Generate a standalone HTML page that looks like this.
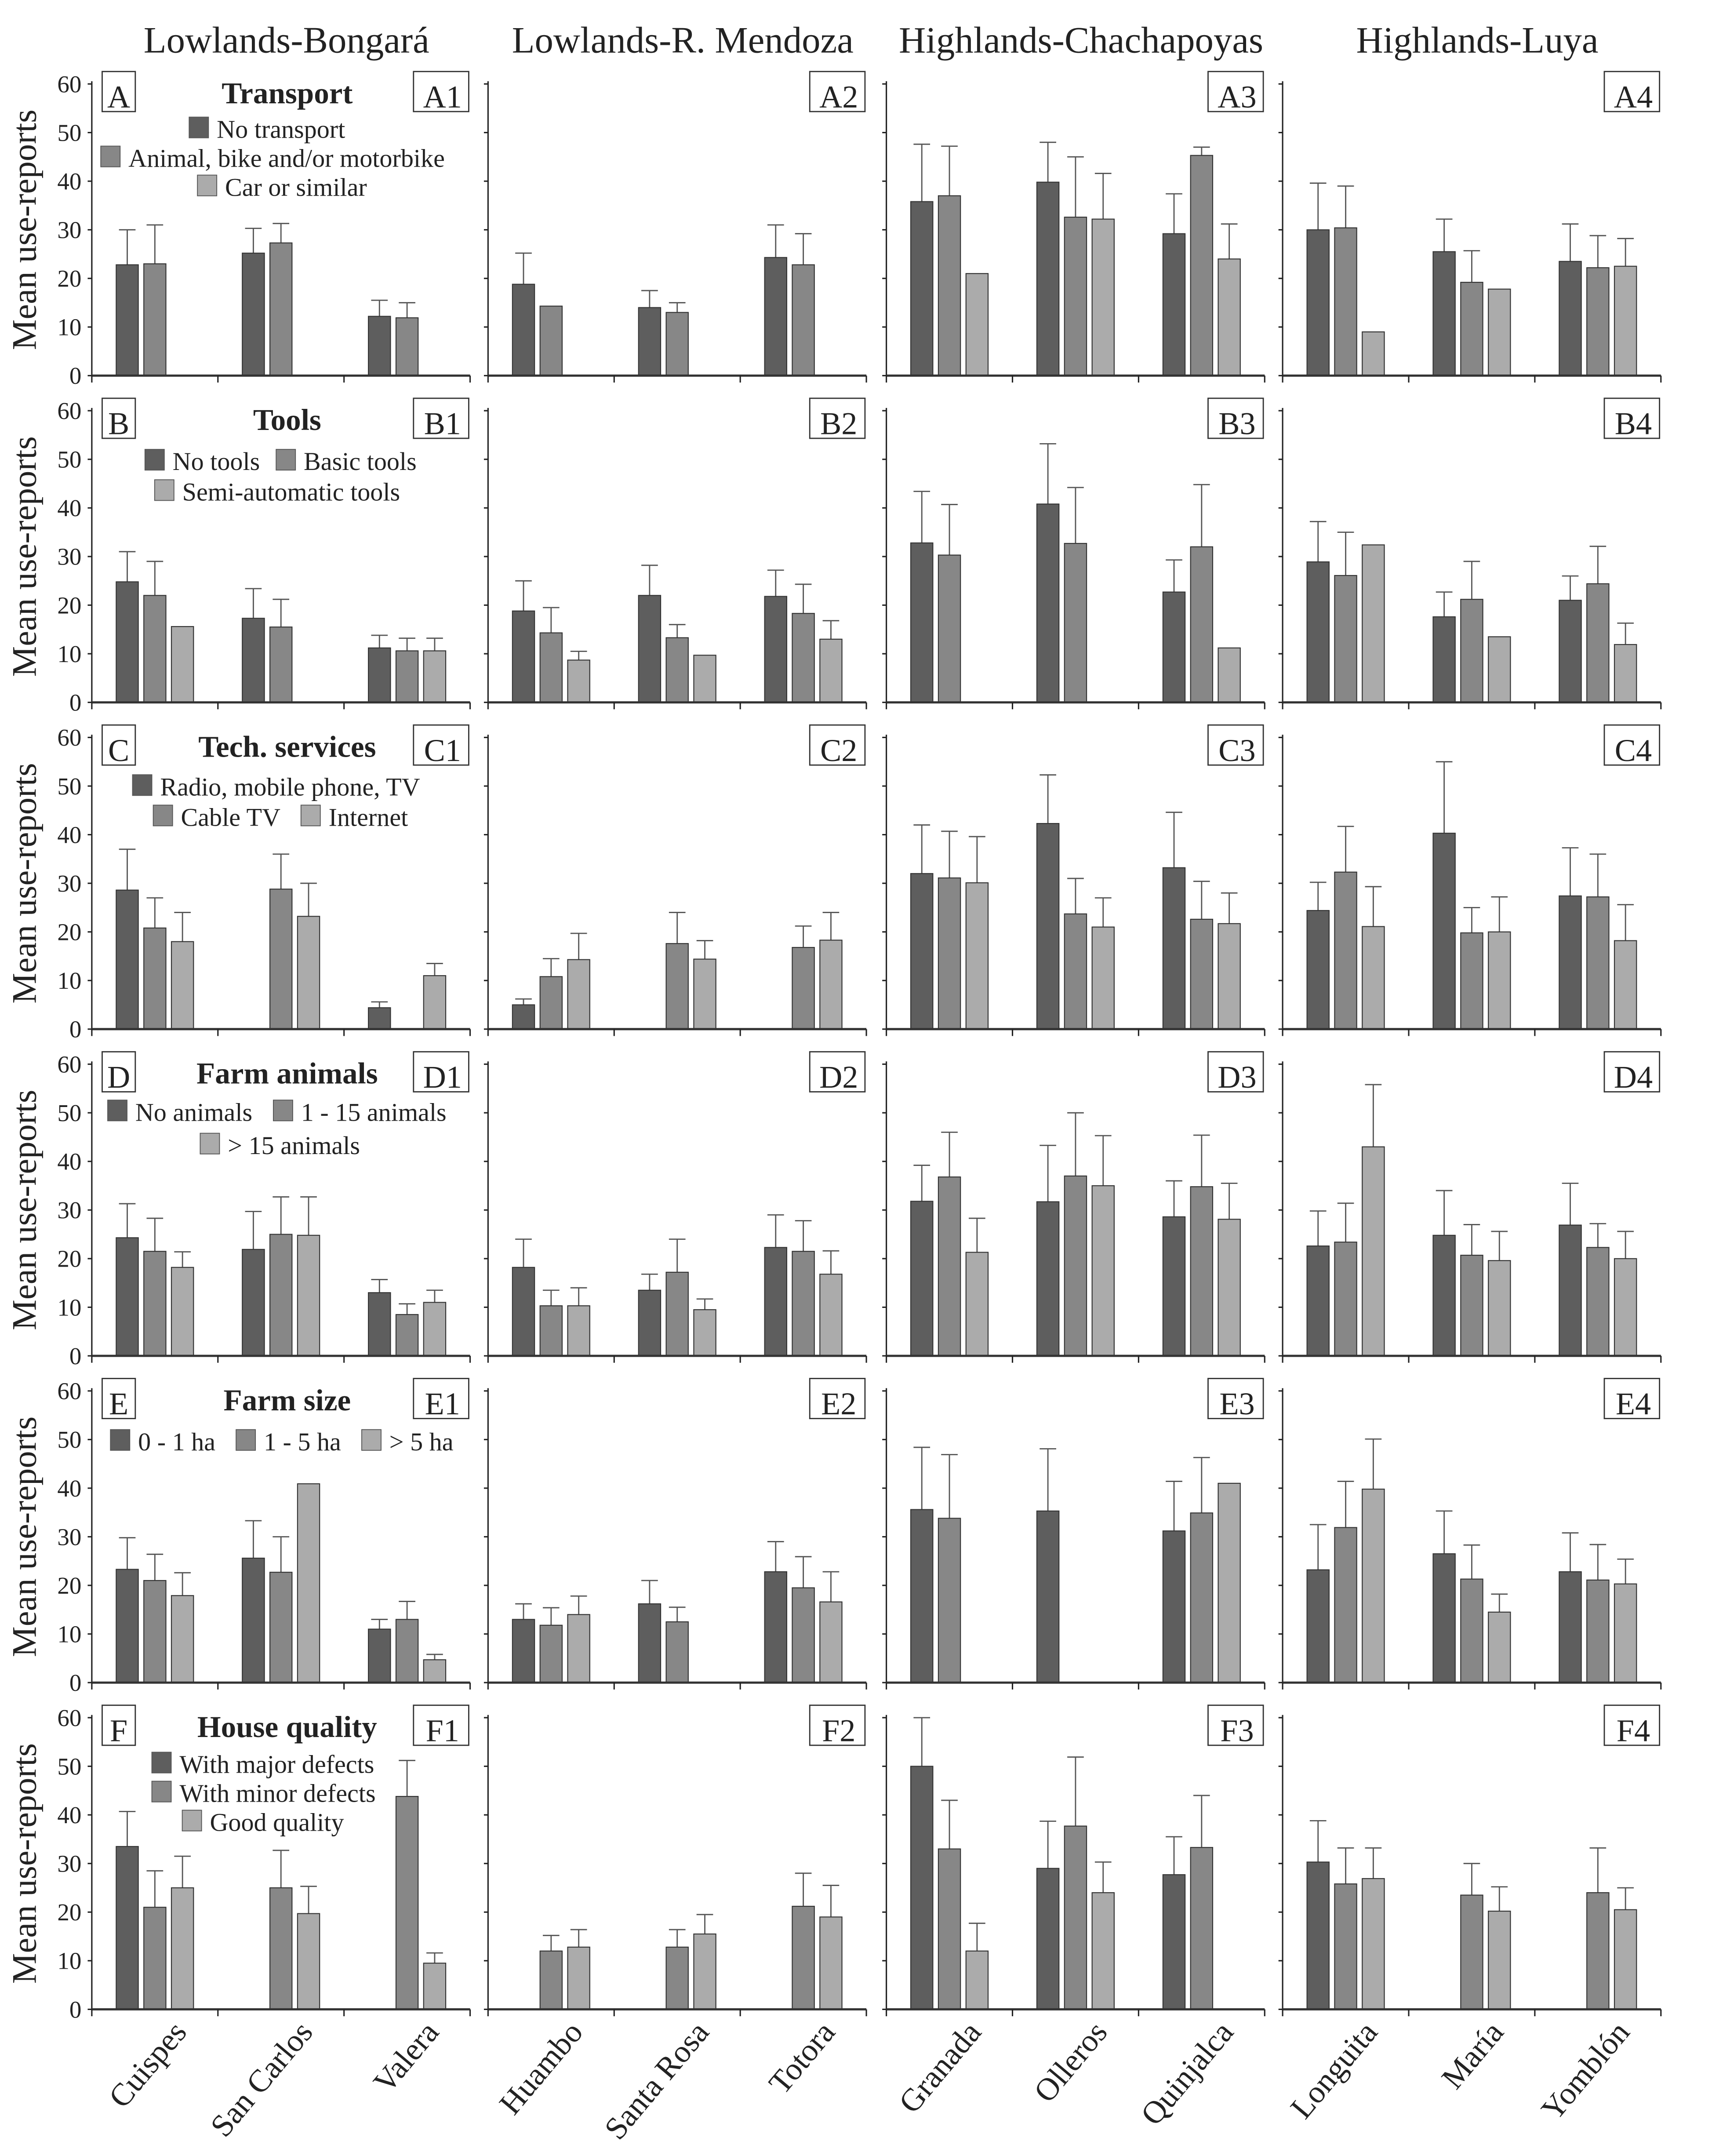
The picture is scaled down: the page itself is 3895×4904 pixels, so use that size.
<!DOCTYPE html>
<html><head><meta charset="utf-8"><style>
html,body{margin:0;padding:0;background:#fff}
svg{display:block}
text{font-family:"Liberation Serif",serif;fill:#222}
</style></head><body>
<svg id="chart" width="3895" height="4904" viewBox="0 0 1240 1561.2" preserveAspectRatio="none" xmlns="http://www.w3.org/2000/svg">
<g id="g"></g>
</svg>
<script>
// Data: [row][panel][group][bar]; null = no bar
const regions = ["Lowlands-Bongará","Lowlands-R. Mendoza","Highlands-Chachapoyas","Highlands-Luya"];
const sites = [["Cuispes","San Carlos","Valera"],["Huambo","Santa Rosa","Totora"],["Granada","Olleros","Quinjalca"],["Longuita","María","Yomblón"]];
const yTicks = [0,10,20,30,40,50,60];
const rowLetters = ["A","B","C","D","E","F"];
const meansA = [[[22.8,23,null],[25.2,27.3,null],[12.2,11.9,null]],[[18.8,14.3,null],[14,13,null],[24.3,22.8,null]],[[35.8,37,21],[39.8,32.6,32.2],[29.2,45.3,24]],[[30,30.4,9],[25.5,19.2,17.8],[23.5,22.2,22.5]]];
const errsA  = [[[30,31,null],[30.3,31.3,null],[15.5,15,null]],[[25.2,null,null],[17.5,15,null],[31,29.2,null]],[[47.6,47.2,null],[48,45,41.6],[37.4,47,31.2]],[[39.6,39,null],[32.2,25.7,null],[31.2,28.8,28.2]]];
const meansB = [[[24.8,22,15.6],[17.3,15.5,null],[11.2,10.6,10.6]],[[18.8,14.3,8.7],[22,13.3,9.7],[21.8,18.3,13]],[[32.8,30.3,null],[40.8,32.7,null],[22.7,32,11.2]],[[28.9,26.1,32.4],[17.6,21.2,13.5],[21,24.4,11.9]]];
const errsB  = [[[31,29,null],[23.4,21.2,null],[13.8,13.2,13.2]],[[25,19.5,10.5],[28.2,16,null],[27.2,24.3,16.8]],[[43.4,40.7,null],[53.2,44.2,null],[29.3,44.8,null]],[[37.2,35,null],[22.7,29,null],[26,32.1,16.3]]];
const meansC = [[[28.6,20.8,18],[null,28.8,23.2],[4.4,null,11]],[[5,10.8,14.3],[null,17.6,14.4],[null,16.8,18.3]],[[32,31.1,30.1],[42.3,23.7,21],[33.2,22.6,21.7]],[[24.4,32.3,21.1],[40.3,19.8,20],[27.4,27.2,18.2]]];
const errsC  = [[[37,27,24],[null,36,30],[5.6,null,13.5]],[[6.2,14.5,19.7],[null,24,18.2],[null,21.2,24]],[[42,40.7,39.6],[52.3,31,27],[44.6,30.4,28]],[[30.2,41.7,29.3],[55,25,27.2],[37.3,36,25.6]]];
const meansD = [[[24.3,21.5,18.2],[21.9,25,24.8],[13,8.5,11]],[[18.2,10.3,10.3],[13.5,17.2,9.5],[22.3,21.5,16.8]],[[31.8,36.8,21.3],[31.7,37,35],[28.6,34.8,28.1]],[[22.6,23.4,43],[24.8,20.7,19.6],[26.9,22.3,20]]];
const errsD  = [[[31.3,28.3,21.4],[29.7,32.7,32.7],[15.7,10.7,13.5]],[[24,13.5,14],[16.8,24,11.7],[29,27.8,21.6]],[[39.2,46,28.3],[43.3,50,45.3],[36,45.4,35.5]],[[29.8,31.4,55.8],[34,27,25.6],[35.5,27.2,25.6]]];
const meansE = [[[23.3,21,17.9],[25.6,22.7,40.9],[11,13,4.7]],[[13,11.8,14],[16.2,12.5,null],[22.8,19.5,16.6]],[[35.6,33.8,null],[35.3,null,null],[31.2,34.9,41]],[[23.2,31.9,39.8],[26.5,21.3,14.5],[22.8,21.1,20.3]]];
const errsE  = [[[29.8,26.4,22.6],[33.3,30,null],[13,16.7,5.8]],[[16.2,15.4,17.8],[21,15.5,null],[29,25.9,22.8]],[[48.4,46.9,null],[48.1,null,null],[41.4,46.3,null]],[[32.5,41.4,50.1],[35.3,28.3,18.2],[30.8,28.4,25.4]]];
const meansF = [[[33.5,21,25],[null,25,19.7],[null,43.8,9.5]],[[null,12,12.8],[null,12.8,15.5],[null,21.2,19]],[[50,33,12],[29,37.7,24],[27.7,33.3,null]],[[30.3,25.8,26.9],[null,23.5,20.2],[null,24,20.5]]];
const errsF  = [[[40.7,28.5,31.5],[null,32.7,25.3],[null,51.2,11.6]],[[null,15.2,16.4],[null,16.4,19.5],[null,28,25.5]],[[60,43,17.7],[38.7,51.9,30.3],[35.5,44,null]],[[38.8,33.2,33.2],[null,30,25.2],[null,33.2,25]]];
const allMeans = [meansA,meansB,meansC,meansD,meansE,meansF];
const allErrs = [errsA,errsB,errsC,errsD,errsE,errsF];
const legendTitles = ["Transport","Tools","Tech. services","Farm animals","Farm size","House quality"];

const NS="http://www.w3.org/2000/svg";
const G=document.getElementById('g');
const fills=["#5e5e5e","#878787","#ababab"];
function mk(tag,attrs,parent){const e=document.createElementNS(NS,tag);for(const k in attrs)e.setAttribute(k,attrs[k]);(parent||G).appendChild(e);return e;}
function txt(s,attrs,parent){const e=mk('text',attrs,parent);e.textContent=s;return e;}
const axisX=[66.5,353.5,642,929], PW=274, ROW0=272, RSTEP=236.6, UNIT=3.52;
function yPos(r,v){return ROW0+r*RSTEP - v*UNIT;}
function xGroup(p,g){return axisX[p]+PW/6+g*PW/3;}
function xBar(p,g,b){return xGroup(p,g)+(b-1)*20;}

regions.forEach((r,i)=>{
  const t=txt(r,{x:axisX[i]+PW/2+4,y:38,'font-size':27,'text-anchor':'middle'});
  
  
});

for(let r=0;r<6;r++){
  const base=yPos(r,0), top=yPos(r,60);
  const yt=txt("Mean use-reports",{x:0,y:0,'font-size':25,'text-anchor':'middle',transform:`translate(26,${(base+top)/2}) rotate(-90)`});
  
  
  yTicks.forEach(v=>{
    const tl=txt(String(v),{x:59,y:yPos(r,v)+6,'font-size':17.5,'text-anchor':'end'});
    
    
  });
  for(let p=0;p<4;p++){
    const ax=axisX[p];
    const pg=mk('g',{});
    
    
    mk('line',{x1:ax,y1:top-2,x2:ax,y2:base,stroke:'#222','stroke-width':1},pg);
    yTicks.forEach(v=>mk('line',{x1:ax-3,y1:yPos(r,v),x2:ax,y2:yPos(r,v),stroke:'#222','stroke-width':1},pg));
    const M=allMeans[r][p], E=allErrs[r][p];
    for(let g=0;g<3;g++)for(let b=0;b<3;b++){
      const m=M[g][b]; if(m===null) continue;
      const cx=xBar(p,g,b), y=yPos(r,m);
      const e=E[g][b];
      if(e!==null){
        const ye=yPos(r,e);
        const el=mk('path',{d:`M${cx} ${y}V${ye}M${cx-6} ${ye}H${cx+6}`,stroke:'#555','stroke-width':0.9,fill:'none'},pg);
        
        
      }
      const bar=mk('rect',{x:cx-8,y:y,width:16,height:base-y,fill:fills[b],stroke:'#333','stroke-width':0.7},pg);
      
      
    }
    mk('line',{x1:ax,y1:base,x2:ax+PW,y2:base,stroke:'#333','stroke-width':1.6},pg);
    for(let k=0;k<=3;k++){const xx=ax+k*PW/3;mk('line',{x1:xx,y1:base,x2:xx,y2:base+5,stroke:'#222','stroke-width':1},pg);}
    const lb=txt(rowLetters[r]+(p+1),{x:ax+PW-20,y:top+17,'font-size':23,'text-anchor':'middle'},pg);
    
    
    mk('rect',{x:ax+PW-41,y:top-9,width:40,height:29,fill:'none',stroke:'#333','stroke-width':0.9},pg);
    if(p===0){
      const ll=txt(rowLetters[r],{x:86,y:top+17,'font-size':23,'text-anchor':'middle'},pg);
      
      
      mk('rect',{x:74,y:top-9,width:24,height:29,fill:'none',stroke:'#333','stroke-width':0.9},pg);
      const lt=txt(legendTitles[r],{x:208,y:top+14,'font-size':22,'font-weight':'bold','text-anchor':'middle'},pg);
      
      
    }
  }
}
const legendEntries=[
 [0,137,24,"No transport",0],[0,73,45,"Animal, bike and/or motorbike",1],[0,143,66,"Car or similar",2],
 [1,105,28,"No tools",0],[1,200,28,"Basic tools",1],[1,112,50,"Semi-automatic tools",2],
 [2,96,27,"Radio, mobile phone, TV",0],[2,111,49,"Cable TV",1],[2,218,49,"Internet",2],
 [3,78,26,"No animals",0],[3,198,26,"1 - 15 animals",1],[3,145,50,"> 15 animals",2],
 [4,80,28,"0 - 1 ha",0],[4,171,28,"1 - 5 ha",1],[4,262,28,"> 5 ha",2],
 [5,110,25,"With major defects",0],[5,110,46,"With minor defects",1],[5,132,67,"Good quality",2]
];
legendEntries.forEach(([r,x,dy,label,c])=>{
  const top=yPos(r,60);
  const lg=mk('g',{});
  
  
  mk('rect',{x:x,y:top+dy,width:14,height:15,fill:fills[c],stroke:'#555','stroke-width':0.6},lg);
  txt(label,{x:x+20,y:top+dy+15,'font-size':18.5},lg);
});
for(let p=0;p<4;p++)for(let g=0;g<3;g++){
  const x=xGroup(p,g)+24, y=1472;
  const t=txt(sites[p][g],{x:0,y:0,'font-size':23,'text-anchor':'end',transform:`translate(${x},${y}) rotate(-50)`});
  
  
}
</script>
</body></html>
